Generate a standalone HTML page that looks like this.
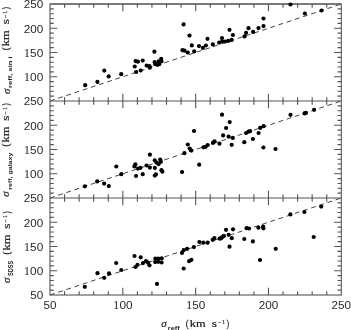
<!DOCTYPE html>
<html><head><meta charset="utf-8"><style>
html,body{margin:0;padding:0;background:#fff;}
body{width:351px;height:330px;overflow:hidden;}
svg{display:block;will-change:transform;}
</style></head><body>
<svg width="351" height="330" viewBox="0 0 351 330">
<rect x="50.0" y="4" width="291.30" height="291" fill="none" stroke="#555" stroke-width="1.1"/>
<line x1="50.0" y1="4" x2="341.30" y2="4" stroke="#555" stroke-width="1.1"/>
<line x1="50.0" y1="101" x2="341.30" y2="101" stroke="#555" stroke-width="1.1"/>
<line x1="50.0" y1="198" x2="341.30" y2="198" stroke="#555" stroke-width="1.1"/>
<path d="M64.56 4v3.8M64.56 101v-3.8M79.13 4v3.8M79.13 101v-3.8M93.70 4v3.8M93.70 101v-3.8M108.26 4v3.8M108.26 101v-3.8M122.83 4v7.3M122.83 101v-7.3M137.39 4v3.8M137.39 101v-3.8M151.96 4v3.8M151.96 101v-3.8M166.52 4v3.8M166.52 101v-3.8M181.09 4v3.8M181.09 101v-3.8M195.65 4v7.3M195.65 101v-7.3M210.22 4v3.8M210.22 101v-3.8M224.78 4v3.8M224.78 101v-3.8M239.35 4v3.8M239.35 101v-3.8M253.91 4v3.8M253.91 101v-3.8M268.48 4v7.3M268.48 101v-7.3M283.04 4v3.8M283.04 101v-3.8M297.61 4v3.8M297.61 101v-3.8M312.17 4v3.8M312.17 101v-3.8M326.74 4v3.8M326.74 101v-3.8M50.0 96.15h3.8M341.30 96.15h-3.8M50.0 91.30h3.8M341.30 91.30h-3.8M50.0 86.45h3.8M341.30 86.45h-3.8M50.0 81.60h3.8M341.30 81.60h-3.8M50.0 76.75h7.3M341.30 76.75h-7.3M50.0 71.90h3.8M341.30 71.90h-3.8M50.0 67.05h3.8M341.30 67.05h-3.8M50.0 62.20h3.8M341.30 62.20h-3.8M50.0 57.35h3.8M341.30 57.35h-3.8M50.0 52.50h7.3M341.30 52.50h-7.3M50.0 47.65h3.8M341.30 47.65h-3.8M50.0 42.80h3.8M341.30 42.80h-3.8M50.0 37.95h3.8M341.30 37.95h-3.8M50.0 33.10h3.8M341.30 33.10h-3.8M50.0 28.25h7.3M341.30 28.25h-7.3M50.0 23.40h3.8M341.30 23.40h-3.8M50.0 18.55h3.8M341.30 18.55h-3.8M50.0 13.70h3.8M341.30 13.70h-3.8M50.0 8.85h3.8M341.30 8.85h-3.8M64.56 101v3.8M64.56 198v-3.8M79.13 101v3.8M79.13 198v-3.8M93.70 101v3.8M93.70 198v-3.8M108.26 101v3.8M108.26 198v-3.8M122.83 101v7.3M122.83 198v-7.3M137.39 101v3.8M137.39 198v-3.8M151.96 101v3.8M151.96 198v-3.8M166.52 101v3.8M166.52 198v-3.8M181.09 101v3.8M181.09 198v-3.8M195.65 101v7.3M195.65 198v-7.3M210.22 101v3.8M210.22 198v-3.8M224.78 101v3.8M224.78 198v-3.8M239.35 101v3.8M239.35 198v-3.8M253.91 101v3.8M253.91 198v-3.8M268.48 101v7.3M268.48 198v-7.3M283.04 101v3.8M283.04 198v-3.8M297.61 101v3.8M297.61 198v-3.8M312.17 101v3.8M312.17 198v-3.8M326.74 101v3.8M326.74 198v-3.8M50.0 193.15h3.8M341.30 193.15h-3.8M50.0 188.30h3.8M341.30 188.30h-3.8M50.0 183.45h3.8M341.30 183.45h-3.8M50.0 178.60h3.8M341.30 178.60h-3.8M50.0 173.75h7.3M341.30 173.75h-7.3M50.0 168.90h3.8M341.30 168.90h-3.8M50.0 164.05h3.8M341.30 164.05h-3.8M50.0 159.20h3.8M341.30 159.20h-3.8M50.0 154.35h3.8M341.30 154.35h-3.8M50.0 149.50h7.3M341.30 149.50h-7.3M50.0 144.65h3.8M341.30 144.65h-3.8M50.0 139.80h3.8M341.30 139.80h-3.8M50.0 134.95h3.8M341.30 134.95h-3.8M50.0 130.10h3.8M341.30 130.10h-3.8M50.0 125.25h7.3M341.30 125.25h-7.3M50.0 120.40h3.8M341.30 120.40h-3.8M50.0 115.55h3.8M341.30 115.55h-3.8M50.0 110.70h3.8M341.30 110.70h-3.8M50.0 105.85h3.8M341.30 105.85h-3.8M64.56 198v3.8M64.56 295v-3.8M79.13 198v3.8M79.13 295v-3.8M93.70 198v3.8M93.70 295v-3.8M108.26 198v3.8M108.26 295v-3.8M122.83 198v7.3M122.83 295v-7.3M137.39 198v3.8M137.39 295v-3.8M151.96 198v3.8M151.96 295v-3.8M166.52 198v3.8M166.52 295v-3.8M181.09 198v3.8M181.09 295v-3.8M195.65 198v7.3M195.65 295v-7.3M210.22 198v3.8M210.22 295v-3.8M224.78 198v3.8M224.78 295v-3.8M239.35 198v3.8M239.35 295v-3.8M253.91 198v3.8M253.91 295v-3.8M268.48 198v7.3M268.48 295v-7.3M283.04 198v3.8M283.04 295v-3.8M297.61 198v3.8M297.61 295v-3.8M312.17 198v3.8M312.17 295v-3.8M326.74 198v3.8M326.74 295v-3.8M50.0 290.15h3.8M341.30 290.15h-3.8M50.0 285.30h3.8M341.30 285.30h-3.8M50.0 280.45h3.8M341.30 280.45h-3.8M50.0 275.60h3.8M341.30 275.60h-3.8M50.0 270.75h7.3M341.30 270.75h-7.3M50.0 265.90h3.8M341.30 265.90h-3.8M50.0 261.05h3.8M341.30 261.05h-3.8M50.0 256.20h3.8M341.30 256.20h-3.8M50.0 251.35h3.8M341.30 251.35h-3.8M50.0 246.50h7.3M341.30 246.50h-7.3M50.0 241.65h3.8M341.30 241.65h-3.8M50.0 236.80h3.8M341.30 236.80h-3.8M50.0 231.95h3.8M341.30 231.95h-3.8M50.0 227.10h3.8M341.30 227.10h-3.8M50.0 222.25h7.3M341.30 222.25h-7.3M50.0 217.40h3.8M341.30 217.40h-3.8M50.0 212.55h3.8M341.30 212.55h-3.8M50.0 207.70h3.8M341.30 207.70h-3.8M50.0 202.85h3.8M341.30 202.85h-3.8" stroke="#555" stroke-width="1.1" fill="none"/>
<line x1="50.0" y1="101" x2="341.30" y2="4" stroke="#444" stroke-width="1" stroke-dasharray="4.9 3.7"/>
<line x1="50.0" y1="198" x2="341.30" y2="101" stroke="#444" stroke-width="1" stroke-dasharray="4.9 3.7"/>
<line x1="50.0" y1="295" x2="341.30" y2="198" stroke="#444" stroke-width="1" stroke-dasharray="4.9 3.7"/>
<circle cx="85.2" cy="85.2" r="2.1"/>
<circle cx="97.4" cy="81.9" r="2.1"/>
<circle cx="104.3" cy="70.6" r="2.1"/>
<circle cx="108.7" cy="76.4" r="2.1"/>
<circle cx="121.2" cy="74.2" r="2.1"/>
<circle cx="134.7" cy="66.5" r="2.1"/>
<circle cx="135.6" cy="61.1" r="2.1"/>
<circle cx="137.9" cy="61.7" r="2.1"/>
<circle cx="142.7" cy="60.6" r="2.1"/>
<circle cx="136.1" cy="72" r="2.1"/>
<circle cx="140.7" cy="70.5" r="2.1"/>
<circle cx="146.7" cy="65.6" r="2.1"/>
<circle cx="149.5" cy="66.2" r="2.1"/>
<circle cx="149.8" cy="67.7" r="2.1"/>
<circle cx="154.4" cy="51.7" r="2.1"/>
<circle cx="154.6" cy="62" r="2.1"/>
<circle cx="155.2" cy="64.2" r="2.1"/>
<circle cx="157.5" cy="64.8" r="2.1"/>
<circle cx="159.2" cy="64.2" r="2.1"/>
<circle cx="161.2" cy="58.9" r="2.1"/>
<circle cx="161.5" cy="61.4" r="2.1"/>
<circle cx="158.6" cy="61.4" r="2.1"/>
<circle cx="182.5" cy="50.2" r="2.1"/>
<circle cx="184.5" cy="50.7" r="2.1"/>
<circle cx="187.7" cy="52.5" r="2.1"/>
<circle cx="194.2" cy="51.4" r="2.1"/>
<circle cx="183.6" cy="24.4" r="2.1"/>
<circle cx="189.5" cy="35.6" r="2.1"/>
<circle cx="191.8" cy="45.4" r="2.1"/>
<circle cx="199" cy="46.1" r="2.1"/>
<circle cx="202.9" cy="47.9" r="2.1"/>
<circle cx="205.9" cy="45.5" r="2.1"/>
<circle cx="207.5" cy="38.8" r="2.1"/>
<circle cx="212.8" cy="44.4" r="2.1"/>
<circle cx="219.2" cy="42.6" r="2.1"/>
<circle cx="222" cy="38" r="2.1"/>
<circle cx="222.2" cy="41.3" r="2.1"/>
<circle cx="225.1" cy="41.5" r="2.1"/>
<circle cx="228.2" cy="40.9" r="2.1"/>
<circle cx="229.5" cy="29.8" r="2.1"/>
<circle cx="232.9" cy="35" r="2.1"/>
<circle cx="231.6" cy="39.9" r="2.1"/>
<circle cx="244.5" cy="36.4" r="2.1"/>
<circle cx="246.1" cy="32.8" r="2.1"/>
<circle cx="248.5" cy="28.2" r="2.1"/>
<circle cx="253.1" cy="31.9" r="2.1"/>
<circle cx="258.5" cy="28.1" r="2.1"/>
<circle cx="263.5" cy="26.1" r="2.1"/>
<circle cx="263.5" cy="18.5" r="2.1"/>
<circle cx="290.5" cy="4.5" r="2.1"/>
<circle cx="304.9" cy="13.5" r="2.1"/>
<circle cx="321.5" cy="10.5" r="2.1"/>
<circle cx="84.9" cy="186.3" r="2.1"/>
<circle cx="97.2" cy="181.4" r="2.1"/>
<circle cx="104.1" cy="183.6" r="2.1"/>
<circle cx="108.8" cy="186.1" r="2.1"/>
<circle cx="116.3" cy="166.5" r="2.1"/>
<circle cx="121.3" cy="174.2" r="2.1"/>
<circle cx="134.4" cy="166.5" r="2.1"/>
<circle cx="135.4" cy="164.3" r="2.1"/>
<circle cx="137.9" cy="168.6" r="2.1"/>
<circle cx="140.5" cy="167.8" r="2.1"/>
<circle cx="136" cy="176" r="2.1"/>
<circle cx="142.7" cy="174.2" r="2.1"/>
<circle cx="146.5" cy="165.5" r="2.1"/>
<circle cx="149.9" cy="167.6" r="2.1"/>
<circle cx="149.9" cy="154.7" r="2.1"/>
<circle cx="154.8" cy="160.3" r="2.1"/>
<circle cx="160.2" cy="159.5" r="2.1"/>
<circle cx="156.4" cy="162.6" r="2.1"/>
<circle cx="158.6" cy="164.1" r="2.1"/>
<circle cx="160.9" cy="161.8" r="2.1"/>
<circle cx="154.8" cy="167.9" r="2.1"/>
<circle cx="161.4" cy="170.2" r="2.1"/>
<circle cx="162.4" cy="171.7" r="2.1"/>
<circle cx="154.8" cy="175.6" r="2.1"/>
<circle cx="155.9" cy="174.4" r="2.1"/>
<circle cx="182.1" cy="172" r="2.1"/>
<circle cx="199.2" cy="164.7" r="2.1"/>
<circle cx="184.4" cy="153.2" r="2.1"/>
<circle cx="187.8" cy="144.5" r="2.1"/>
<circle cx="189.7" cy="148.6" r="2.1"/>
<circle cx="191.4" cy="150.6" r="2.1"/>
<circle cx="194" cy="131" r="2.1"/>
<circle cx="203.5" cy="147.3" r="2.1"/>
<circle cx="205.7" cy="146.8" r="2.1"/>
<circle cx="207.7" cy="145" r="2.1"/>
<circle cx="212.9" cy="142.9" r="2.1"/>
<circle cx="214.5" cy="141.3" r="2.1"/>
<circle cx="219.5" cy="143.7" r="2.1"/>
<circle cx="222" cy="114.7" r="2.1"/>
<circle cx="229.7" cy="122.1" r="2.1"/>
<circle cx="226.1" cy="128" r="2.1"/>
<circle cx="223.1" cy="135.4" r="2.1"/>
<circle cx="228.6" cy="136.6" r="2.1"/>
<circle cx="232.8" cy="137.9" r="2.1"/>
<circle cx="231.7" cy="144.8" r="2.1"/>
<circle cx="244.3" cy="142.2" r="2.1"/>
<circle cx="246.1" cy="133" r="2.1"/>
<circle cx="248.5" cy="131.7" r="2.1"/>
<circle cx="250.1" cy="131.2" r="2.1"/>
<circle cx="252.9" cy="139" r="2.1"/>
<circle cx="258.6" cy="133" r="2.1"/>
<circle cx="260.2" cy="127.9" r="2.1"/>
<circle cx="263.6" cy="126.2" r="2.1"/>
<circle cx="263.4" cy="147.5" r="2.1"/>
<circle cx="275.5" cy="149" r="2.1"/>
<circle cx="290.5" cy="114.8" r="2.1"/>
<circle cx="304.5" cy="113.4" r="2.1"/>
<circle cx="305.9" cy="112.9" r="2.1"/>
<circle cx="314.1" cy="109.8" r="2.1"/>
<circle cx="84.8" cy="286.8" r="2.1"/>
<circle cx="97.5" cy="273.2" r="2.1"/>
<circle cx="104.2" cy="277.8" r="2.1"/>
<circle cx="109" cy="273.4" r="2.1"/>
<circle cx="116.2" cy="263" r="2.1"/>
<circle cx="121.3" cy="270" r="2.1"/>
<circle cx="134.5" cy="256" r="2.1"/>
<circle cx="140.7" cy="257.3" r="2.1"/>
<circle cx="135.5" cy="267" r="2.1"/>
<circle cx="137.5" cy="264.8" r="2.1"/>
<circle cx="143" cy="263.1" r="2.1"/>
<circle cx="146" cy="261.2" r="2.1"/>
<circle cx="148" cy="262.7" r="2.1"/>
<circle cx="149.5" cy="265.3" r="2.1"/>
<circle cx="155.4" cy="258.7" r="2.1"/>
<circle cx="155.2" cy="262.1" r="2.1"/>
<circle cx="158.3" cy="258.5" r="2.1"/>
<circle cx="158.3" cy="261.8" r="2.1"/>
<circle cx="161.7" cy="258.4" r="2.1"/>
<circle cx="161.6" cy="262.5" r="2.1"/>
<circle cx="157" cy="283.9" r="2.1"/>
<circle cx="182" cy="253" r="2.1"/>
<circle cx="183.7" cy="268.5" r="2.1"/>
<circle cx="183.7" cy="250.2" r="2.1"/>
<circle cx="187.1" cy="248.8" r="2.1"/>
<circle cx="193.9" cy="247.1" r="2.1"/>
<circle cx="189.1" cy="261.2" r="2.1"/>
<circle cx="191.4" cy="259.8" r="2.1"/>
<circle cx="199.4" cy="242" r="2.1"/>
<circle cx="203.3" cy="242.7" r="2.1"/>
<circle cx="207.6" cy="242.7" r="2.1"/>
<circle cx="212.7" cy="239.8" r="2.1"/>
<circle cx="214.4" cy="238.1" r="2.1"/>
<circle cx="219.6" cy="238.6" r="2.1"/>
<circle cx="221" cy="238.4" r="2.1"/>
<circle cx="222.2" cy="237.2" r="2.1"/>
<circle cx="223.8" cy="235.9" r="2.1"/>
<circle cx="226" cy="229.8" r="2.1"/>
<circle cx="233" cy="229.3" r="2.1"/>
<circle cx="228.6" cy="234.8" r="2.1"/>
<circle cx="231.8" cy="238.2" r="2.1"/>
<circle cx="229.5" cy="246.7" r="2.1"/>
<circle cx="244.3" cy="239" r="2.1"/>
<circle cx="252.9" cy="241.4" r="2.1"/>
<circle cx="246.6" cy="228.2" r="2.1"/>
<circle cx="249" cy="228.5" r="2.1"/>
<circle cx="258.4" cy="227.7" r="2.1"/>
<circle cx="263.1" cy="226.5" r="2.1"/>
<circle cx="263.4" cy="228.3" r="2.1"/>
<circle cx="275.7" cy="248.8" r="2.1"/>
<circle cx="260" cy="260" r="2.1"/>
<circle cx="290.4" cy="214.4" r="2.1"/>
<circle cx="304.4" cy="212" r="2.1"/>
<circle cx="321.2" cy="206.6" r="2.1"/>
<circle cx="313.7" cy="237" r="2.1"/>
<text x="43.3" y="8.30" text-anchor="end" font-family="Liberation Sans" font-size="11.2" fill="#2a2a2a" textLength="19.5" lengthAdjust="spacingAndGlyphs">250</text>
<text x="43.3" y="32.55" text-anchor="end" font-family="Liberation Sans" font-size="11.2" fill="#2a2a2a" textLength="19.5" lengthAdjust="spacingAndGlyphs">200</text>
<text x="43.3" y="56.80" text-anchor="end" font-family="Liberation Sans" font-size="11.2" fill="#2a2a2a" textLength="19.5" lengthAdjust="spacingAndGlyphs"><tspan font-family="Liberation Serif" font-size="12">1</tspan>50</text>
<text x="43.3" y="81.05" text-anchor="end" font-family="Liberation Sans" font-size="11.2" fill="#2a2a2a" textLength="19.5" lengthAdjust="spacingAndGlyphs"><tspan font-family="Liberation Serif" font-size="12">1</tspan>00</text>
<text x="43.3" y="105.30" text-anchor="end" font-family="Liberation Sans" font-size="11.2" fill="#2a2a2a" textLength="19.5" lengthAdjust="spacingAndGlyphs">250</text>
<text x="43.3" y="129.55" text-anchor="end" font-family="Liberation Sans" font-size="11.2" fill="#2a2a2a" textLength="19.5" lengthAdjust="spacingAndGlyphs">200</text>
<text x="43.3" y="153.80" text-anchor="end" font-family="Liberation Sans" font-size="11.2" fill="#2a2a2a" textLength="19.5" lengthAdjust="spacingAndGlyphs"><tspan font-family="Liberation Serif" font-size="12">1</tspan>50</text>
<text x="43.3" y="178.05" text-anchor="end" font-family="Liberation Sans" font-size="11.2" fill="#2a2a2a" textLength="19.5" lengthAdjust="spacingAndGlyphs"><tspan font-family="Liberation Serif" font-size="12">1</tspan>00</text>
<text x="43.3" y="202.30" text-anchor="end" font-family="Liberation Sans" font-size="11.2" fill="#2a2a2a" textLength="19.5" lengthAdjust="spacingAndGlyphs">250</text>
<text x="43.3" y="226.55" text-anchor="end" font-family="Liberation Sans" font-size="11.2" fill="#2a2a2a" textLength="19.5" lengthAdjust="spacingAndGlyphs">200</text>
<text x="43.3" y="250.80" text-anchor="end" font-family="Liberation Sans" font-size="11.2" fill="#2a2a2a" textLength="19.5" lengthAdjust="spacingAndGlyphs"><tspan font-family="Liberation Serif" font-size="12">1</tspan>50</text>
<text x="43.3" y="275.05" text-anchor="end" font-family="Liberation Sans" font-size="11.2" fill="#2a2a2a" textLength="19.5" lengthAdjust="spacingAndGlyphs"><tspan font-family="Liberation Serif" font-size="12">1</tspan>00</text>
<text x="43.3" y="299.30" text-anchor="end" font-family="Liberation Sans" font-size="11.2" fill="#2a2a2a" textLength="13" lengthAdjust="spacingAndGlyphs">50</text>
<text x="50.00" y="309" text-anchor="middle" font-family="Liberation Sans" font-size="11.2" fill="#2a2a2a" textLength="13" lengthAdjust="spacingAndGlyphs">50</text>
<text x="122.83" y="309" text-anchor="middle" font-family="Liberation Sans" font-size="11.2" fill="#2a2a2a" textLength="19.5" lengthAdjust="spacingAndGlyphs"><tspan font-family="Liberation Serif" font-size="12">1</tspan>00</text>
<text x="195.65" y="309" text-anchor="middle" font-family="Liberation Sans" font-size="11.2" fill="#2a2a2a" textLength="19.5" lengthAdjust="spacingAndGlyphs"><tspan font-family="Liberation Serif" font-size="12">1</tspan>50</text>
<text x="268.48" y="309" text-anchor="middle" font-family="Liberation Sans" font-size="11.2" fill="#2a2a2a" textLength="19.5" lengthAdjust="spacingAndGlyphs">200</text>
<text x="341.30" y="309" text-anchor="middle" font-family="Liberation Sans" font-size="11.2" fill="#2a2a2a" textLength="19.5" lengthAdjust="spacingAndGlyphs">250</text>
<g transform="translate(161.2,326.7)"><text x="0" y="0.2" font-family="Liberation Serif" font-style="italic" font-size="11" textLength="5.4" lengthAdjust="spacingAndGlyphs" fill="#222" stroke="#222" stroke-width="0.2">&#963;</text><text x="6.6" y="3.1" font-family="Liberation Sans" font-weight="bold" font-size="6" textLength="11.8" lengthAdjust="spacingAndGlyphs" fill="#222">reff</text><text transform="translate(24.49,0) scale(0.876,1)" font-family="Liberation Serif" font-size="10.3" fill="#222" stroke="#222" stroke-width="0.2">(</text><text transform="translate(28.55,0) scale(1.206,1)" font-family="Liberation Serif" font-size="10.3" fill="#222" stroke="#222" stroke-width="0.2">km</text><text transform="translate(50.47,0) scale(1.270,1)" font-family="Liberation Serif" font-size="10.5" fill="#222" stroke="#222" stroke-width="0.2">s</text><text transform="translate(56.70,-1.5) scale(0.926,1)" font-family="Liberation Serif" font-size="6.5" fill="#222" stroke-width="0.2" stroke="#222">&#8722;</text><text transform="translate(61.09,-2.5) scale(0.879,1)" font-family="Liberation Serif" font-size="6.5" fill="#222" stroke-width="0.2" stroke="#222">1</text><text transform="translate(65.37,0) scale(0.747,1)" font-family="Liberation Serif" font-size="10.3" fill="#222" stroke="#222" stroke-width="0.2">)</text></g>
<g transform="translate(9.0,93.9) rotate(-90)"><text x="0" y="0.7" font-family="Liberation Serif" font-style="italic" font-size="11" textLength="5.4" lengthAdjust="spacingAndGlyphs" fill="#222" stroke="#222" stroke-width="0.2">&#963;</text><text x="6.0" y="3.2" font-family="Liberation Sans" font-weight="bold" font-size="6" textLength="31.6" lengthAdjust="spacingAndGlyphs" fill="#222">reff, sin i</text><text transform="translate(43.59,0) scale(0.876,1)" font-family="Liberation Serif" font-size="10.3" fill="#222" stroke="#222" stroke-width="0.2">(</text><text transform="translate(47.65,0) scale(1.206,1)" font-family="Liberation Serif" font-size="10.3" fill="#222" stroke="#222" stroke-width="0.2">km</text><text transform="translate(69.57,0) scale(1.270,1)" font-family="Liberation Serif" font-size="10.5" fill="#222" stroke="#222" stroke-width="0.2">s</text><text transform="translate(75.80,-1.5) scale(0.926,1)" font-family="Liberation Serif" font-size="6.5" fill="#222" stroke-width="0.2" stroke="#222">&#8722;</text><text transform="translate(80.19,-2.5) scale(0.879,1)" font-family="Liberation Serif" font-size="6.5" fill="#222" stroke-width="0.2" stroke="#222">1</text><text transform="translate(84.47,0) scale(0.747,1)" font-family="Liberation Serif" font-size="10.3" fill="#222" stroke="#222" stroke-width="0.2">)</text></g>
<g transform="translate(9.0,196.7) rotate(-90)"><text x="0" y="0" font-family="Liberation Serif" font-style="italic" font-size="11" textLength="5.4" lengthAdjust="spacingAndGlyphs" fill="#222" stroke="#222" stroke-width="0.2">&#963;</text><text x="7.0" y="3.0" font-family="Liberation Sans" font-weight="bold" font-size="6" textLength="37.0" lengthAdjust="spacingAndGlyphs" fill="#222">reff, galaxy</text><text transform="translate(50.09,0) scale(0.876,1)" font-family="Liberation Serif" font-size="10.3" fill="#222" stroke="#222" stroke-width="0.2">(</text><text transform="translate(54.15,0) scale(1.206,1)" font-family="Liberation Serif" font-size="10.3" fill="#222" stroke="#222" stroke-width="0.2">km</text><text transform="translate(76.07,0) scale(1.270,1)" font-family="Liberation Serif" font-size="10.5" fill="#222" stroke="#222" stroke-width="0.2">s</text><text transform="translate(82.30,-1.5) scale(0.926,1)" font-family="Liberation Serif" font-size="6.5" fill="#222" stroke-width="0.2" stroke="#222">&#8722;</text><text transform="translate(86.69,-2.5) scale(0.879,1)" font-family="Liberation Serif" font-size="6.5" fill="#222" stroke-width="0.2" stroke="#222">1</text><text transform="translate(90.97,0) scale(0.747,1)" font-family="Liberation Serif" font-size="10.3" fill="#222" stroke="#222" stroke-width="0.2">)</text></g>
<g transform="translate(9.9,282.9) rotate(-90)"><text x="0" y="0" font-family="Liberation Serif" font-style="italic" font-size="11" textLength="5.4" lengthAdjust="spacingAndGlyphs" fill="#222" stroke="#222" stroke-width="0.2">&#963;</text><text x="6.9" y="2.8" font-family="Liberation Sans" font-weight="bold" font-size="6.5" textLength="15.2" lengthAdjust="spacingAndGlyphs" fill="#222">SDSS</text><text transform="translate(28.29,0) scale(0.876,1)" font-family="Liberation Serif" font-size="10.3" fill="#222" stroke="#222" stroke-width="0.2">(</text><text transform="translate(32.35,0) scale(1.206,1)" font-family="Liberation Serif" font-size="10.3" fill="#222" stroke="#222" stroke-width="0.2">km</text><text transform="translate(54.27,0) scale(1.270,1)" font-family="Liberation Serif" font-size="10.5" fill="#222" stroke="#222" stroke-width="0.2">s</text><text transform="translate(60.50,-1.5) scale(0.926,1)" font-family="Liberation Serif" font-size="6.5" fill="#222" stroke-width="0.2" stroke="#222">&#8722;</text><text transform="translate(64.89,-2.5) scale(0.879,1)" font-family="Liberation Serif" font-size="6.5" fill="#222" stroke-width="0.2" stroke="#222">1</text><text transform="translate(69.17,0) scale(0.747,1)" font-family="Liberation Serif" font-size="10.3" fill="#222" stroke="#222" stroke-width="0.2">)</text></g>
</svg>
</body></html>
